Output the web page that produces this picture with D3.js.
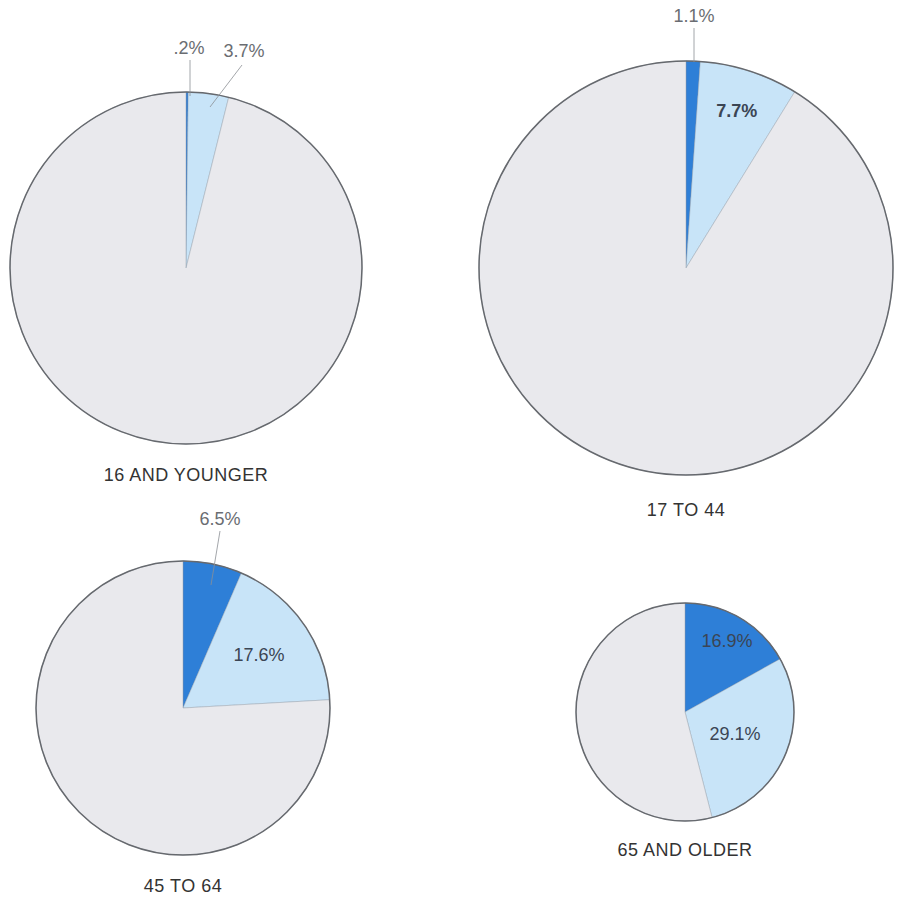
<!DOCTYPE html>
<html>
<head>
<meta charset="utf-8">
<script src="https://cdn.jsdelivr.net/npm/d3@7/dist/d3.min.js"></script>
<style>
  body { margin: 0; background: #fff; }
  text { font-family: "Liberation Sans", Arial, sans-serif; fill: #444; }
</style>
</head>
<body>
<svg id="chart"></svg>
<script>
// age groups and the two shares (percent) shown in each pie
const groups = ["16 AND YOUNGER", "17 TO 44", "45 TO 64", "65 AND OLDER"];
const darkShare = [0.2, 1.1, 6.5, 16.9];
const lightShare = [3.7, 7.7, 17.6, 29.1];
const darkLabels = [".2%", "1.1%", "6.5%", "16.9%"];
const lightLabels = ["3.7%", "7.7%", "17.6%", "29.1%"];

const width = 899, height = 897;
const colors = ["#2e7fd7", "#c8e4f8", "#e9e9ed"];

// where each pie sits on the page; outside labels get a pixel offset and a leader line
const layout = [
    { cx: 186, cy: 268, r: 176, titleY: 475,
      dark: { text: [3, -220], lead: [4, -208, 4, -172] },
      light: { text: [58, -217], lead: [56, -203, 24, -161] } },
    { cx: 686, cy: 268, r: 207, titleY: 510,
      dark: { text: [8, -252], lead: [8, -240, 8, -206] },
      light: { r: 0.8, bold: true } },
    { cx: 183, cy: 708, r: 147, titleY: 886,
      dark: { text: [37, -189], lead: [37, -177, 28, -123] },
      light: { r: 0.63 } },
    { cx: 685, cy: 712, r: 109, titleY: 850,
      dark: { r: 0.76 },
      light: { r: 0.5 } }
];

const svg = d3.select("#chart")
    .attr("width", width)
    .attr("height", height);

const pie = d3.pie().sort(null).value(d => d);

groups.forEach((name, i) => {
    const L = layout[i];
    const values = [darkShare[i], lightShare[i], 100 - darkShare[i] - lightShare[i]];
    const arcData = pie(values);
    const arc = d3.arc().innerRadius(0).outerRadius(L.r);

    const g = svg.append("g")
        .attr("transform", `translate(${L.cx}, ${L.cy})`);

    g.selectAll("path")
        .data(arcData)
        .enter()
        .append("path")
        .attr("d", arc)
        .attr("fill", (d, j) => colors[j])
        .attr("stroke", (d, j) => j === 0 ? "#3a6fae" : "#9aa6b2")
        .attr("stroke-width", 0.5);

    // outline of the whole disc
    g.append("circle")
        .attr("r", L.r)
        .attr("fill", "none")
        .attr("stroke", "#66696e")
        .attr("stroke-width", 1.5);

    const labels = [darkLabels[i], lightLabels[i]];
    [L.dark, L.light].forEach((opt, j) => {
        let x, y;
        if (opt.text) {
            [x, y] = opt.text;
            g.append("line")
                .attr("x1", opt.lead[0]).attr("y1", opt.lead[1])
                .attr("x2", opt.lead[2]).attr("y2", opt.lead[3])
                .attr("stroke", "#8c8f94")
                .attr("stroke-width", 0.8);
        } else {
            const d = arcData[j];
            const mid = (d.startAngle + d.endAngle) / 2;
            x = opt.r * L.r * Math.sin(mid);
            y = -opt.r * L.r * Math.cos(mid);
        }
        g.append("text")
            .attr("x", x)
            .attr("y", y)
            .attr("dy", "0.35em")
            .attr("text-anchor", "middle")
            .attr("font-size", 18)
            .attr("font-weight", opt.bold ? "bold" : "normal")
            .style("fill", opt.text ? "#6a6d72" : "#3b4554")
            .text(labels[j]);
    });

    svg.append("text")
        .attr("x", L.cx)
        .attr("y", L.titleY)
        .attr("dy", "0.35em")
        .attr("text-anchor", "middle")
        .attr("font-size", 18)
        .style("letter-spacing", "0.5px")
        .style("fill", "#333")
        .text(name);
});
</script>
</body>
</html>
